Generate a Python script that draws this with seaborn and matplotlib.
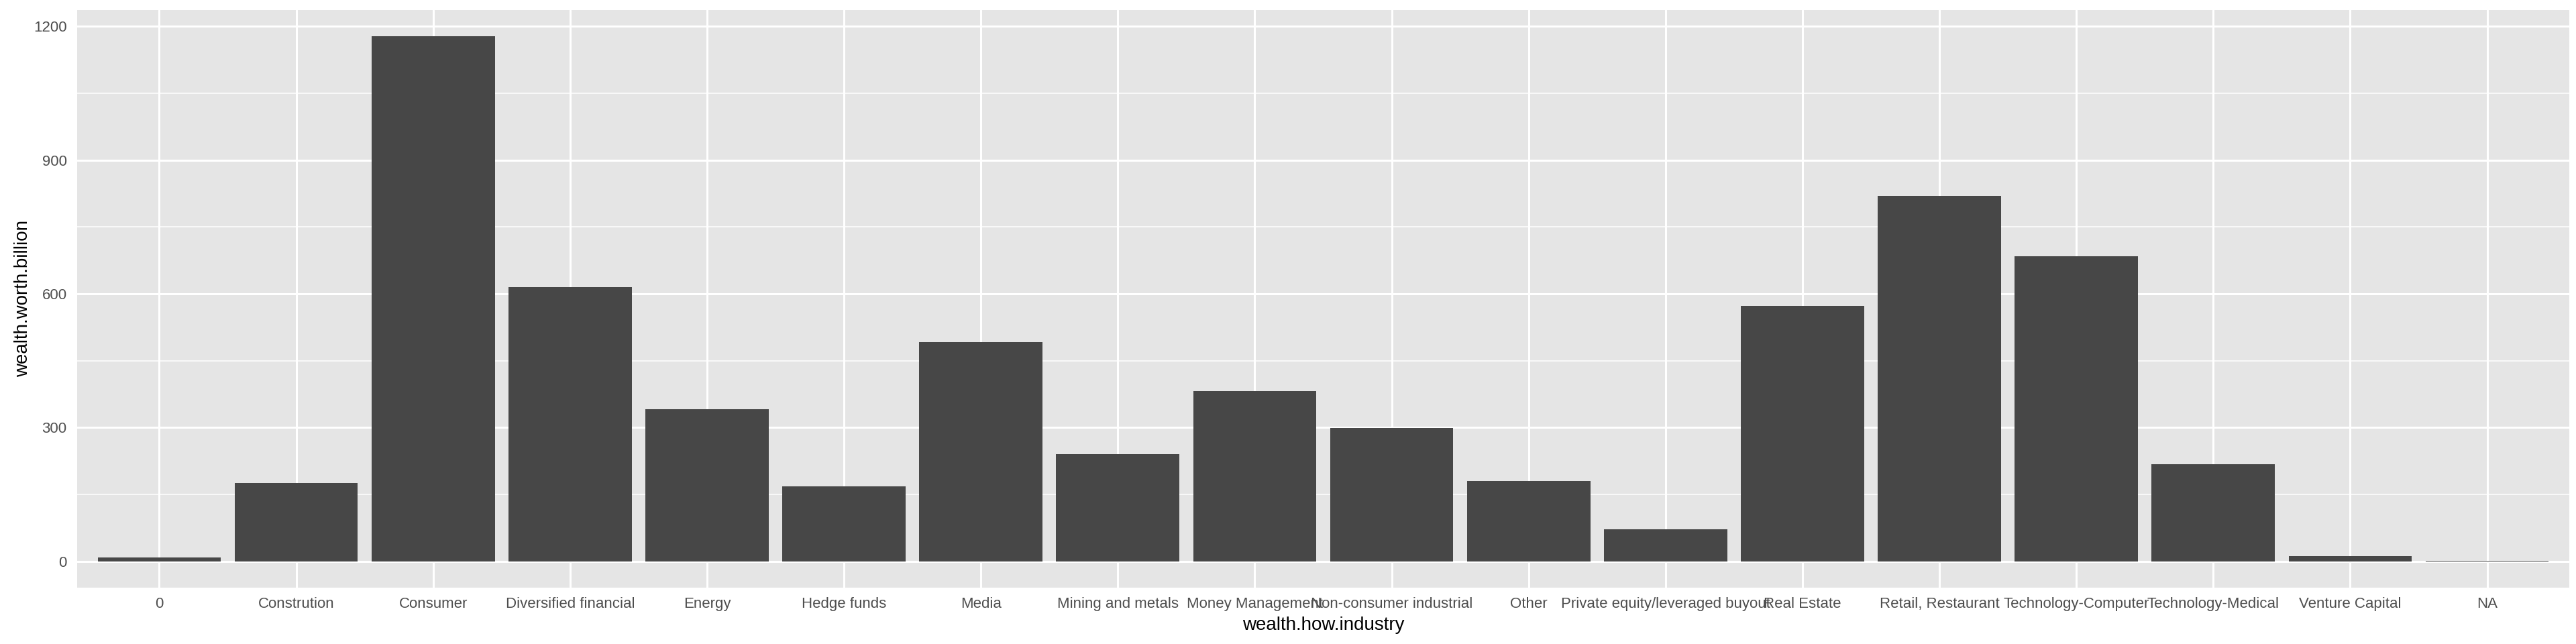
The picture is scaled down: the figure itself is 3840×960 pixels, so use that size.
import matplotlib
matplotlib.use("Agg")
import matplotlib.pyplot as plt
from matplotlib.ticker import MultipleLocator
import pandas as pd
import seaborn as sns

# values
industries = ["0", "Constrution", "Consumer", "Diversified financial", "Energy",
              "Hedge funds", "Media", "Mining and metals", "Money Management",
              "Non-consumer industrial", "Other", "Private equity/leveraged buyout",
              "Real Estate", "Retail, Restaurant", "Technology-Computer",
              "Technology-Medical", "Venture Capital", "NA"]
worth = [8.2, 175.5, 1177.8, 614.8, 341.2, 168.1, 491.2, 240.7, 381.6, 299.2,
         180.5, 71.7, 573.6, 820.0, 684.9, 217.6, 12.4, 1.5]
yticks = [0, 300, 600, 900, 1200]

df = pd.DataFrame({"wealth.how.industry": industries, "wealth.worth.billion": worth})

sns.set_style("darkgrid", {"axes.facecolor": "#E5E5E5", "grid.color": "white"})
plt.rcParams["font.family"] = ["Liberation Sans", "DejaVu Sans"]

fig = plt.figure(figsize=(38.4, 9.6), dpi=100)
ax = fig.add_axes([115 / 3840, 1 - 876 / 960, (3830 - 115) / 3840, (876 - 15) / 960])

sns.barplot(data=df, x="wealth.how.industry", y="wealth.worth.billion",
            color="#474747", saturation=1, width=0.9, ax=ax, linewidth=0)

top = max(worth)
ax.set_ylim(-0.05 * top, top * 1.05)
ax.set_xlim(-0.6, len(industries) - 1 + 0.6)
ax.set_yticks(yticks)
ax.yaxis.set_minor_locator(MultipleLocator(150))
ax.set_axisbelow(True)
ax.grid(which="major", color="white", linewidth=2.2)
ax.grid(which="minor", axis="y", color="white", linewidth=1.1)
for s in ax.spines.values():
    s.set_visible(False)

ax.tick_params(axis="both", which="major", length=7, width=2, color="#333333",
               labelsize=16, labelcolor="#4D4D4D", pad=4)
ax.tick_params(axis="x", which="major", pad=3)
ax.tick_params(axis="both", which="minor", length=0)
ax.set_xlabel("wealth.how.industry", fontsize=20, color="black", labelpad=6)
ax.set_ylabel("wealth.worth.billion", fontsize=20, color="black", labelpad=2)

fig.savefig("out.png", dpi=100)
